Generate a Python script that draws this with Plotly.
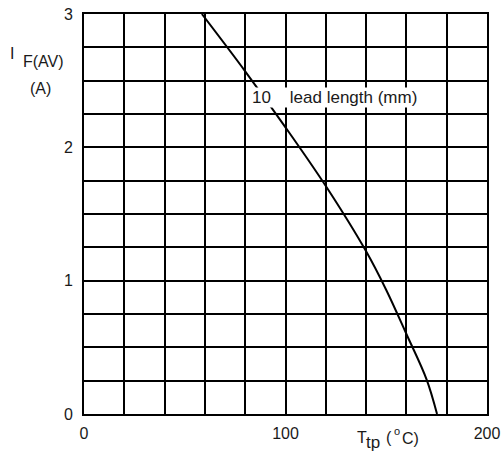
import plotly.graph_objects as go

# Data
temp_c = [58.5, 80, 100, 120, 140, 150, 160, 170, 175.2]
current_a = [3.0, 2.57, 2.15, 1.71, 1.22, 0.93, 0.6, 0.26, 0.0]

x_grid = [0, 20, 40, 60, 80, 100, 120, 140, 160, 180, 200]
x_labels = ["0", "", "", "", "", "100", "", "", "", "", "200"]
y_grid = [i * 0.25 for i in range(13)]
y_labels = ["0", "", "", "", "1", "", "", "", "2", "", "", "", "3"]

W, H = 504, 458
L, R, T, B = 84, 17, 14, 44
pw, ph = W - L - R, H - T - B


def px(sx):
    return (sx - L) / pw


def py(sy):
    return (H - B - sy) / ph


FONT = "Liberation Sans, Arial, sans-serif"
TXT = "#1a1a1a"
FS = 16


def note(text, sx, sy, size=FS, xanchor="center", **kw):
    return dict(text=text, x=px(sx), y=py(sy), xref="paper", yref="paper",
                xanchor=xanchor, yanchor="middle", showarrow=False,
                font=dict(size=size, color=TXT, family=FONT), **kw)


fig = go.Figure()
fig.add_trace(go.Scatter(
    x=temp_c, y=current_a, mode="lines",
    line=dict(color="black", width=2, shape="spline", smoothing=1.0),
    showlegend=False, hoverinfo="skip",
))

fig.update_layout(
    width=W, height=H,
    margin=dict(l=L, r=R, t=T, b=B, pad=0, autoexpand=False),
    paper_bgcolor="white", plot_bgcolor="white",
    font=dict(family=FONT, size=FS, color=TXT),
    xaxis=dict(
        range=[0, 200], tickvals=x_grid, ticktext=x_labels,
        showgrid=True, gridcolor="black", gridwidth=2,
        showline=True, linecolor="black", linewidth=2, mirror=True,
        zeroline=False, ticks="", ticklabelstandoff=4, automargin=False,
        ticklabeloverflow="allow", tickfont=dict(size=FS, color=TXT),
    ),
    yaxis=dict(
        range=[0, 3], tickvals=y_grid, ticktext=y_labels,
        showgrid=True, gridcolor="black", gridwidth=2,
        showline=True, linecolor="black", linewidth=2, mirror=True,
        zeroline=False, ticks="", ticklabelstandoff=6, automargin=False,
        ticklabeloverflow="allow", tickfont=dict(size=FS, color=TXT),
    ),
    annotations=[
        note("I", 12, 53),
        note("F(AV)", 43, 61),
        note("(A)", 40, 88),
        note("T", 355, 437, xanchor="left"),
        note("tp", 364, 442, size=17, xanchor="left"),
        note("(", 384, 437, xanchor="left"),
        note("o", 392, 431, size=11, xanchor="left"),
        note("C)", 400, 438, xanchor="left"),
        note("10\u00a0\u00a0\u00a0\u00a0lead length (mm)", 251, 98, size=17,
             xanchor="left", bgcolor="white", borderpad=0),
    ],
)

fig.write_html(
    "out.html",
    config={"displayModeBar": False, "staticPlot": True},
    post_script="document.body.style.margin='0';document.body.style.overflow='hidden';",
)
